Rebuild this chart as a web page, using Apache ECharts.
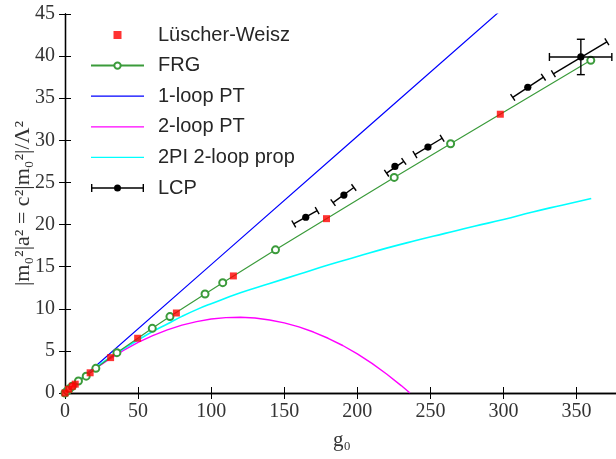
<!DOCTYPE html>
<html>
<head>
<meta charset="utf-8">
<script src="https://cdn.jsdelivr.net/npm/echarts@6/dist/echarts.min.js"></script>
<style>
  html, body { margin: 0; padding: 0; background: #fff; }
  #chart { width: 616px; height: 459px; }
</style>
</head>
<body>
<div id="chart"></div>
<script>
// Lüscher-Weisz points
const lwG = [0, 2.5, 5, 7, 17.2, 31.2, 49.7, 76.2, 115.2, 178.9, 297.8];
const lwV = [0, 0.45, 0.8, 1.05, 2.4, 4.2, 6.5, 9.5, 13.9, 20.7, 33.1];

// FRG
const frgG = [0, 1.5, 3, 5, 9.2, 14.5, 21.1, 35.5, 59.7, 71.8, 95.8, 107.9, 144, 225.2, 263.8, 359.7];
const frgV = [0, 0.25, 0.5, 0.8, 1.43, 2.0, 2.93, 4.79, 7.68, 9.07, 11.76, 13.1, 17.0, 25.6, 29.6, 39.5];

// 1-loop PT
const oneLoopG = [0, 100, 200, 300, 320];
const oneLoopV = [0, 15.24, 30.48, 45.72, 48.77];

// 2-loop PT
const twoLoopG = [0, 5, 10, 20, 30, 40, 50, 60, 70, 80, 90, 100, 110, 120, 130, 140, 150, 160, 170, 180, 190, 200, 210, 220, 230, 236];
const twoLoopV = [0, 0.75, 1.46, 2.79, 3.99, 5.06, 6.01, 6.82, 7.50, 8.06, 8.48, 8.78, 8.95, 8.99, 8.90, 8.67, 8.33, 7.85, 7.24, 6.50, 5.64, 4.64, 3.52, 2.26, 0.88, 0];

// 2PI 2-loop prop
const tpiG = [0, 10, 20, 30, 40, 50, 60, 70, 80, 90, 100, 120, 140, 160, 180, 200, 220, 240, 260, 280, 300, 320, 340, 360];
const tpiV = [0, 1.5, 2.9, 4.15, 5.25, 6.3, 7.3, 8.2, 9.1, 9.9, 10.6, 11.9, 13.0, 14.1, 15.2, 16.2, 17.2, 18.1, 18.95, 19.8, 20.6, 21.5, 22.3, 23.1];

// LCP points with slanted error bars (ends lo/hi), plus x/y error for the last one
const lcpG = [164.7, 190.8, 225.7, 248.3, 316.6, 352.9];
const lcpV = [20.87, 23.5, 26.9, 29.2, 36.3, 39.9];
const lcpLo = [[156.5, 20.07], [183.4, 22.6], [220.0, 26.1], [239.4, 28.3], [306.3, 35.1], [334.1, 37.9]];
const lcpHi = [[172.5, 21.65], [197.6, 24.4], [231.8, 27.5], [258.0, 30.25], [327.3, 37.5], [370.7, 41.7]];
const lcpXErr = [null, null, null, null, null, [331.4, 374.1]];
const lcpYErr = [null, null, null, null, null, [37.8, 42.0]];

const zip = (a, b) => a.map((x, i) => [x, b[i]]);

const serif = '"Liberation Serif", "DejaVu Serif", serif';
const sans = '"Liberation Sans", Arial, sans-serif';
const axisCol = '#000';
const labelCol = '#333';

const lineIcon = 'path://M0,0H53V1.3H0Z';
const squareIcon = 'path://M0,0H8V8H0Z';
const lcpIcon = 'path://M0,3.3H53V4.7H0ZM0,0H1.4V8H0ZM51.6,0H53V8H51.6ZM23,4A3.5,3.5 0 1,1 30,4A3.5,3.5 0 1,1 23,4Z';

function renderLcp(params, api) {
  const i = params.dataIndex;
  const kids = [];
  const seg = (p, q) => {
    const a = api.coord(p), b = api.coord(q);
    const dx = b[0] - a[0], dy = b[1] - a[1];
    const len = Math.sqrt(dx * dx + dy * dy) || 1;
    const nx = -dy / len * 4, ny = dx / len * 4;
    const st = { stroke: '#000', lineWidth: 1.4 };
    kids.push({ type: 'line', shape: { x1: a[0], y1: a[1], x2: b[0], y2: b[1] }, style: st });
    kids.push({ type: 'line', shape: { x1: a[0] + nx, y1: a[1] + ny, x2: a[0] - nx, y2: a[1] - ny }, style: st });
    kids.push({ type: 'line', shape: { x1: b[0] + nx, y1: b[1] + ny, x2: b[0] - nx, y2: b[1] - ny }, style: st });
  };
  seg(lcpLo[i], lcpHi[i]);
  if (lcpXErr[i]) seg([lcpXErr[i][0], lcpV[i]], [lcpXErr[i][1], lcpV[i]]);
  if (lcpYErr[i]) seg([lcpG[i], lcpYErr[i][0]], [lcpG[i], lcpYErr[i][1]]);
  const c = api.coord([lcpG[i], lcpV[i]]);
  kids.push({ type: 'circle', shape: { cx: c[0], cy: c[1], r: 3.6 }, style: { fill: '#000' } });
  return { type: 'group', children: kids };
}

const chart = echarts.init(document.getElementById('chart'));
chart.setOption({
  animation: false,
  backgroundColor: '#fff',
  grid: { left: 65, right: -3, top: 14, bottom: 66, outerBoundsMode: 'none', containLabel: false },
  legend: {
    orient: 'vertical',
    left: 85,
    top: 20,
    itemWidth: 53,
    itemHeight: 8,
    itemGap: 10.6,
    itemStyle: { borderWidth: 0 },
    textStyle: { fontFamily: sans, fontSize: 20, color: '#262626', padding: [0, 0, 0, 9] },
    data: [
      { name: 'Lüscher-Weisz', icon: squareIcon },
      { name: 'FRG' },
      { name: '1-loop PT', icon: lineIcon },
      { name: '2-loop PT', icon: lineIcon },
      { name: '2PI 2-loop prop', icon: lineIcon },
      { name: 'LCP', icon: lcpIcon }
    ]
  },
  xAxis: [{
    type: 'value', min: 0, max: 379, interval: 50,
    name: 'g₀', nameLocation: 'middle', nameGap: 37, nameMoveOverlap: false,
    nameTextStyle: { fontFamily: serif, fontSize: 21, color: labelCol },
    axisLine: { lineStyle: { color: axisCol, width: 1.3 } },
    axisTick: { inside: true, length: 6, lineStyle: { color: axisCol } },
    axisLabel: { fontFamily: serif, fontSize: 20, color: labelCol, margin: 9, showMaxLabel: false },
    splitLine: { show: false }
  }, {
    type: 'value', min: 0, max: 379, interval: 50, position: 'top',
    axisLine: { lineStyle: { color: axisCol, width: 1.3 } },
    axisTick: { inside: true, length: 6, lineStyle: { color: axisCol } },
    axisLabel: { show: false },
    splitLine: { show: false }
  }],
  yAxis: [{
    type: 'value', min: 0, max: 45, interval: 5,
    name: '|m₀²|a² = c²|m₀²|/Λ²', nameLocation: 'middle', nameGap: 31, nameMoveOverlap: false,
    nameTextStyle: { fontFamily: serif, fontSize: 22, color: labelCol },
    axisLine: { lineStyle: { color: axisCol, width: 1.3 } },
    axisTick: { inside: true, length: 6, lineStyle: { color: axisCol } },
    axisLabel: { fontFamily: serif, fontSize: 20, color: labelCol, margin: 10 },
    splitLine: { show: false }
  }, {
    type: 'value', min: 0, max: 45, interval: 5, position: 'right',
    axisLine: { lineStyle: { color: axisCol, width: 1.3 } },
    axisTick: { inside: true, length: 6, lineStyle: { color: axisCol } },
    axisLabel: { show: false },
    splitLine: { show: false }
  }],
  series: [
    {
      name: 'Lüscher-Weisz', type: 'scatter', data: zip(lwG, lwV),
      symbol: 'rect', symbolSize: 7, clip: false, z: 4,
      itemStyle: { color: '#ff0000' }
    },
    {
      name: 'FRG', type: 'line', data: zip(frgG, frgV),
      symbol: 'emptyCircle', symbolSize: 7, z: 3,
      lineStyle: { color: '#3b9b3b', width: 1.2 },
      itemStyle: { color: '#3b9b3b', borderWidth: 1.2 }
    },
    {
      name: '1-loop PT', type: 'line', data: zip(oneLoopG, oneLoopV),
      showSymbol: false, clip: true, z: 2,
      lineStyle: { color: '#0000ff', width: 1.2 }, itemStyle: { color: '#0000ff' }
    },
    {
      name: '2-loop PT', type: 'line', data: zip(twoLoopG, twoLoopV),
      showSymbol: false, clip: true, z: 2,
      lineStyle: { color: '#ff00ff', width: 1.4 }, itemStyle: { color: '#ff00ff' }
    },
    {
      name: '2PI 2-loop prop', type: 'line', data: zip(tpiG, tpiV), smooth: true,
      showSymbol: false, clip: true, z: 2,
      lineStyle: { color: '#00ffff', width: 1.6 }, itemStyle: { color: '#00ffff' }
    },
    {
      name: 'LCP', type: 'custom', data: zip(lcpG, lcpV),
      encode: { x: 0, y: 1 }, renderItem: renderLcp, clip: false, z: 5,
      itemStyle: { color: '#000' }
    }
  ]
});
</script>
</body>
</html>
